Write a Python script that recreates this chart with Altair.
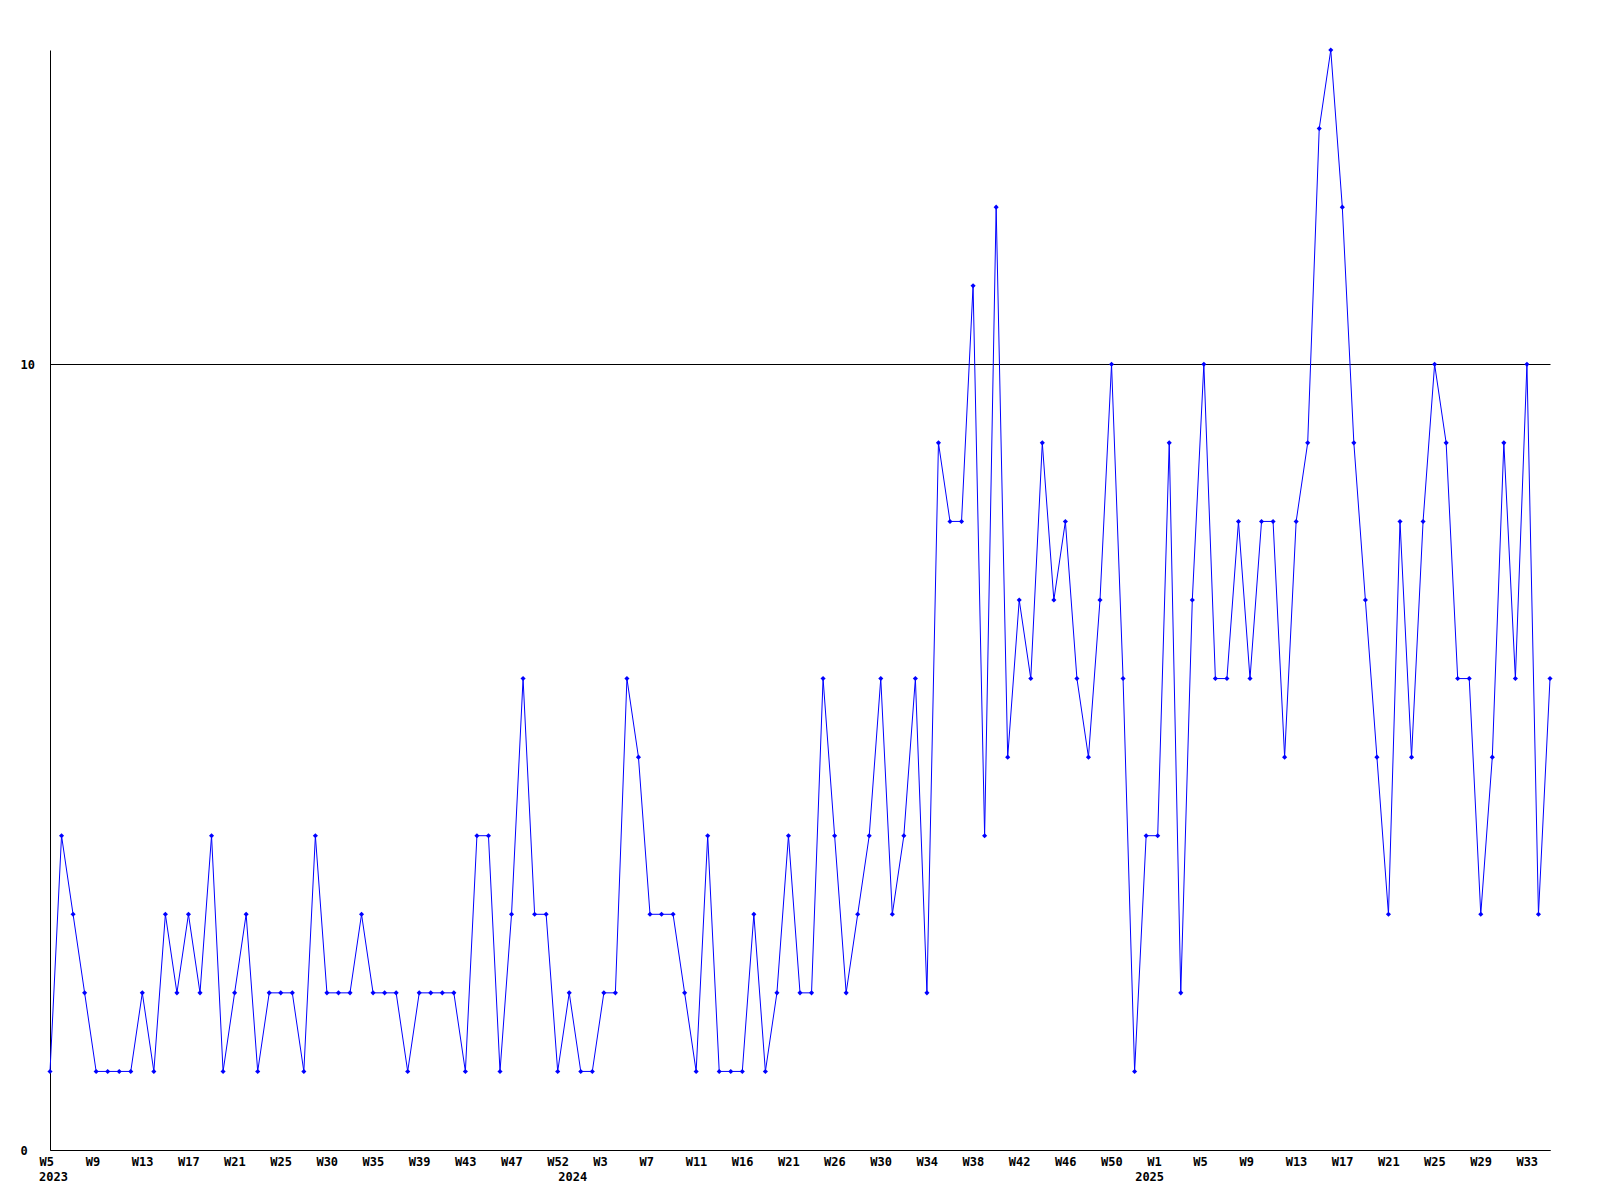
import altair as alt
import pandas as pd

# weekly values, 2023 W5 .. 2025 W35 (one point per sample)
values = [
    1, 4, 3, 2, 1, 1, 1, 1, 2, 1,
    3, 2, 3, 2, 4, 1, 2, 3, 1, 2,
    2, 2, 1, 4, 2, 2, 2, 3, 2, 2,
    2, 1, 2, 2, 2, 2, 1, 4, 4, 1,
    3, 6, 3, 3, 1,
    2, 1, 1, 2, 2, 6, 5, 3, 3, 3, 2, 1, 4, 1, 1, 1, 3, 1, 2, 4,
    2, 2, 6, 4, 2, 3, 4, 6, 3, 4, 6, 2,
    9,
    8, 8, 11, 4, 12, 5, 7, 6, 9, 7,
    8, 6, 5, 7, 10, 6, 1, 4, 4, 9,
    2, 7, 10, 6, 6, 8, 6, 8, 8, 5,
    8, 9, 13, 14, 12, 9, 7, 5, 3, 8,
    5, 8, 10, 9, 6, 6, 3, 5, 9, 6,
    10, 3, 6,
]

# week labels shown every 4th sample
week_labels = [
    "W5", "W9", "W13", "W17", "W21", "W25", "W30", "W35", "W39", "W43", "W47", "W52",
    "W3", "W7", "W11", "W16", "W21", "W26", "W30", "W34", "W38", "W42", "W46", "W50",
    "W1", "W5", "W9", "W13", "W17", "W21", "W25", "W29", "W33",
]
label_step = 4

# year labels and the sample index where each year begins
years = ["2023", "2024", "2025"]
year_start_index = [0, 45, 95]

y_ticks = [0, 10]

df = pd.DataFrame({"idx": list(range(len(values))), "value": values})
years_df = pd.DataFrame({"idx": year_start_index, "year": years})

tick_idx = [i * label_step for i in range(len(week_labels))]
label_expr = "[" + ",".join("'" + w + "'" for w in week_labels) + "][round(datum.value / %d)]" % label_step

FONT = "DejaVu Sans Mono"
W, H = 1500, 1100
BLUE = "#0000ff"

x_scale = alt.Scale(domain=[0, len(values) - 1], nice=False, zero=False)

line = alt.Chart(df).mark_line(
    color=BLUE,
    strokeWidth=1,
    point=alt.OverlayMarkDef(shape="diamond", filled=True, size=26, color=BLUE),
).encode(
    x=alt.X(
        "idx:Q",
        scale=x_scale,
        axis=alt.Axis(
            title=None,
            values=tick_idx,
            labelExpr=label_expr,
            grid=False,
            ticks=False,
            tickSize=0,
            domainColor="#000000",
            domainWidth=1,
            labelAlign="left",
            labelOffset=-11,
            labelBaseline="middle",
            labelPadding=11,
            labelFont=FONT,
            labelFontWeight="bold",
            labelFontSize=12,
            labelColor="#000000",
            labelOverlap=False,
            labelFlush=False,
        ),
    ),
    y=alt.Y(
        "value:Q",
        scale=alt.Scale(domain=[0, 14], nice=False),
        axis=alt.Axis(
            title=None,
            values=y_ticks,
            grid=True,
            gridColor="#000000",
            gridOpacity=1,
            gridWidth=1,
            ticks=False,
            tickSize=0,
            domainColor="#000000",
            domainWidth=1,
            labelAlign="left",
            labelBaseline="middle",
            labelPadding=30,
            labelFont=FONT,
            labelFontWeight="bold",
            labelFontSize=12,
            labelColor="#000000",
            labelFlush=False,
        ),
    ),
)

year_text = alt.Chart(years_df).mark_text(
    align="left",
    baseline="middle",
    dx=-11,
    font=FONT,
    fontWeight="bold",
    fontSize=12,
    color="#000000",
).encode(
    x=alt.X("idx:Q", scale=x_scale),
    y=alt.value(H + 27),
    text="year:N",
)

chart = alt.layer(line, year_text).properties(
    width=W,
    height=H,
    autosize=alt.AutoSizeParams(type="none"),
    padding={"left": 42, "top": 42, "right": 42, "bottom": 42},
    background="#ffffff",
).configure_view(stroke=None)

chart.save("out.html", embed_options={"renderer": "svg", "actions": False})
